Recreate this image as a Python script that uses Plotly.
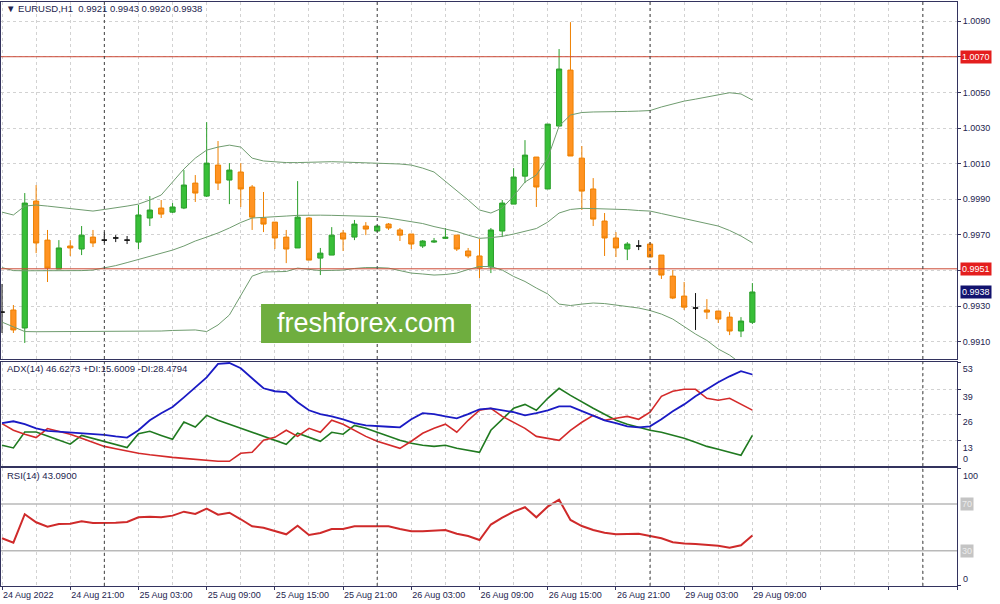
import plotly.graph_objects as go

# ---------------- data (EURUSD H1, bar 0 = 24 Aug 2022 15:00) ----------------
open_ = [0.99267, 0.99279, 0.99178, 0.99890, 0.99671, 0.99509, 0.99638, 0.99621, 0.99688, 0.99671,
         0.99683, 0.99671, 0.99660, 0.99795, 0.99851, 0.99828, 0.99851, 0.99991, 0.99918, 1.00092,
         1.00008, 1.00053, 0.99969, 0.99795, 0.99772, 0.99688, 0.99627, 0.99795, 0.99570, 0.99587,
         0.99711, 0.99688, 0.99750, 0.99722, 0.99761, 0.99728, 0.99705, 0.99638, 0.99660, 0.99681,
         0.99699, 0.99610, 0.99582, 0.99520, 0.99722, 0.99873, 1.00030, 1.00137, 0.99958, 1.00311,
         1.00625, 1.00131, 0.99958, 0.99778, 0.99683, 0.99621, 0.99638, 0.99649, 0.99587, 0.99469,
         0.99357, 0.99290, 0.99279, 0.99273, 0.99239, 0.99161, 0.99210]
high = [0.99425, 0.99307, 0.99935, 0.99980, 0.99728, 0.99671, 0.99671, 0.99750, 0.99728, 0.99716,
        0.99699, 0.99694, 0.99868, 0.99918, 0.99896, 0.99879, 1.00064, 1.00036, 1.00333, 1.00227,
        1.00103, 1.00103, 0.99980, 0.99941, 0.99772, 0.99728, 1.00002, 0.99800, 0.99627, 0.99744,
        0.99728, 0.99784, 0.99772, 0.99756, 0.99767, 0.99739, 0.99705, 0.99671, 0.99683, 0.99739,
        0.99699, 0.99627, 0.99677, 0.99739, 0.99896, 1.00075, 1.00232, 1.00137, 1.00322, 1.00743,
        1.00894, 1.00199, 1.00019, 0.99823, 0.99716, 0.99660, 0.99671, 0.99660, 0.99587, 0.99503,
        0.99436, 0.99374, 0.99340, 0.99273, 0.99267, 0.99239, 0.99430]
low = [0.99150, 0.99150, 0.99094, 0.99598, 0.99436, 0.99509, 0.99582, 0.99587, 0.99632, 0.99655,
       0.99660, 0.99649, 0.99621, 0.99750, 0.99795, 0.99823, 0.99845, 0.99885, 0.99913, 0.99952,
       0.99873, 0.99857, 0.99728, 0.99716, 0.99621, 0.99542, 0.99627, 0.99559, 0.99475, 0.99587,
       0.99610, 0.99671, 0.99699, 0.99716, 0.99728, 0.99666, 0.99621, 0.99627, 0.99655, 0.99677,
       0.99610, 0.99570, 0.99458, 0.99486, 0.99688, 0.99873, 0.99991, 0.99857, 0.99958, 1.00311,
       1.00143, 0.99840, 0.99750, 0.99582, 0.99576, 0.99559, 0.99615, 0.99576, 0.99453, 0.99340,
       0.99279, 0.99167, 0.99228, 0.99206, 0.99138, 0.99127, 0.99200]
close = [0.99267, 0.99167, 0.99879, 0.99655, 0.99514, 0.99627, 0.99627, 0.99699, 0.99655, 0.99671,
         0.99683, 0.99671, 0.99812, 0.99840, 0.99817, 0.99857, 0.99980, 0.99935, 1.00103, 0.99991,
         1.00064, 0.99958, 0.99800, 0.99761, 0.99683, 0.99621, 0.99800, 0.99559, 0.99598, 0.99699,
         0.99677, 0.99761, 0.99733, 0.99750, 0.99739, 0.99699, 0.99649, 0.99666, 0.99666, 0.99687,
         0.99621, 0.99582, 0.99514, 0.99728, 0.99879, 1.00025, 1.00148, 0.99969, 1.00322, 1.00631,
         1.00143, 0.99946, 0.99789, 0.99683, 0.99627, 0.99649, 0.99638, 0.99576, 0.99475, 0.99346,
         0.99295, 0.99290, 0.99267, 0.99228, 0.99161, 0.99217, 0.99380]

bb_upper = [0.99828, 0.99812, 0.99862, 0.99868, 0.99862, 0.99854, 0.99848, 0.99840, 0.99834, 0.99843,
            0.99851, 0.99862, 0.99873, 0.99896, 0.99924, 0.99997, 1.00070, 1.00131, 1.00176, 1.00193,
            1.00204, 1.00193, 1.00131, 1.00115, 1.00109, 1.00106, 1.00106, 1.00109, 1.00111, 1.00111,
            1.00109, 1.00107, 1.00106, 1.00103, 1.00101, 1.00098, 1.00092, 1.00075, 1.00053, 1.00002,
            0.99952, 0.99896, 0.99840, 0.99823, 0.99851, 0.99918, 0.99997, 1.00036, 1.00131, 1.00311,
            1.00373, 1.00387, 1.00390, 1.00390, 1.00392, 1.00393, 1.00395, 1.00398, 1.00418, 1.00434,
            1.00451, 1.00462, 1.00474, 1.00485, 1.00498, 1.00491, 1.00457]
bb_middle = [0.99517, 0.99500, 0.99499, 0.99499, 0.99499, 0.99498, 0.99498, 0.99500, 0.99503, 0.99514,
             0.99528, 0.99545, 0.99562, 0.99582, 0.99598, 0.99615, 0.99638, 0.99666, 0.99688, 0.99711,
             0.99739, 0.99770, 0.99795, 0.99800, 0.99803, 0.99806, 0.99810, 0.99812, 0.99811, 0.99810,
             0.99808, 0.99806, 0.99804, 0.99803, 0.99795, 0.99786, 0.99775, 0.99764, 0.99747, 0.99733,
             0.99719, 0.99699, 0.99681, 0.99685, 0.99692, 0.99705, 0.99719, 0.99736, 0.99772, 0.99823,
             0.99843, 0.99849, 0.99848, 0.99847, 0.99845, 0.99842, 0.99837, 0.99834, 0.99820, 0.99806,
             0.99792, 0.99778, 0.99764, 0.99750, 0.99725, 0.99694, 0.99656]
bb_lower = [0.99211, 0.99183, 0.99158, 0.99157, 0.99157, 0.99158, 0.99158, 0.99158, 0.99158, 0.99158,
            0.99158, 0.99158, 0.99159, 0.99161, 0.99161, 0.99164, 0.99164, 0.99167, 0.99158, 0.99195,
            0.99251, 0.99363, 0.99469, 0.99492, 0.99494, 0.99495, 0.99514, 0.99506, 0.99500, 0.99501,
            0.99503, 0.99512, 0.99517, 0.99517, 0.99514, 0.99500, 0.99486, 0.99481, 0.99475, 0.99478,
            0.99486, 0.99506, 0.99523, 0.99523, 0.99503, 0.99467, 0.99439, 0.99402, 0.99369, 0.99312,
            0.99304, 0.99312, 0.99318, 0.99315, 0.99307, 0.99298, 0.99290, 0.99276, 0.99256, 0.99228,
            0.99186, 0.99144, 0.99108, 0.99060, 0.99026, 0.98976, 0.98931]

adx = [21.8, 22.8, 21.3, 19.2, 17.9, 17.5, 17.2, 16.7, 16.3, 15.9,
       15.1, 14.5, 18.2, 23.3, 26.9, 30.1, 35.0, 40.1, 45.2, 52.0,
       52.5, 49.8, 44.7, 39.6, 38.1, 37.6, 32.5, 28.4, 26.4, 25.3,
       23.8, 21.8, 20.7, 20.2, 20.0, 19.7, 23.8, 26.9, 26.4, 25.3,
       24.3, 26.4, 28.9, 29.4, 28.4, 27.4, 25.8, 26.9, 28.4, 30.4,
       30.4, 27.9, 25.8, 23.3, 21.8, 20.2, 19.7, 20.2, 23.8, 27.9,
       31.4, 35.5, 39.1, 42.7, 45.7, 48.3, 46.63]
plus_di = [10.6, 9.2, 17.3, 17.3, 15.3, 13.2, 11.1, 15.6, 14.1, 12.5,
           11.0, 9.4, 16.5, 17.7, 15.6, 13.6, 22.4, 19.9, 25.8, 23.3,
           21.3, 19.2, 17.2, 15.1, 13.1, 11.1, 16.7, 14.6, 12.6, 17.2,
           16.2, 20.7, 19.2, 17.2, 15.1, 13.1, 11.6, 10.6, 10.0, 10.6,
           9.0, 8.0, 7.0, 18.2, 23.8, 29.4, 31.4, 28.4, 34.5, 39.6,
           36.0, 32.5, 29.4, 26.4, 23.3, 21.3, 19.7, 18.2, 17.2, 15.6,
           14.1, 12.1, 10.0, 8.5, 7.0, 5.5, 15.6]
minus_di = [21.6, 18.2, 16.2, 14.5, 19.1, 17.7, 16.2, 14.1, 12.1, 10.0,
            8.8, 7.5, 6.5, 5.7, 4.9, 4.4, 3.9, 3.4, 2.9, 2.4,
            2.4, 6.5, 7.0, 13.1, 14.6, 18.2, 15.1, 19.2, 17.2, 23.3,
            21.3, 18.2, 15.1, 12.6, 10.6, 9.0, 12.6, 16.7, 19.2, 21.3,
            17.2, 23.3, 28.4, 29.4, 25.3, 22.3, 19.2, 15.1, 14.1, 13.1,
            18.2, 22.3, 25.8, 23.3, 24.3, 25.3, 23.8, 27.4, 35.5, 38.1,
            39.1, 39.1, 34.5, 33.5, 34.5, 31.4, 28.48]
rsi = [40.6, 36.8, 61.2, 54.3, 50.5, 52.8, 53.1, 55.2, 53.7, 53.7,
       54.0, 54.6, 58.6, 59.1, 58.6, 60.0, 63.4, 61.4, 66.0, 60.8,
       62.5, 56.9, 50.9, 49.7, 46.6, 44.0, 51.4, 43.4, 45.1, 48.6,
       48.6, 50.9, 50.9, 50.9, 50.9, 48.6, 46.6, 46.6, 46.9, 47.7,
       44.5, 42.6, 39.1, 52.4, 58.2, 63.4, 67.2, 58.6, 67.7, 73.7,
       56.3, 51.1, 47.7, 45.4, 44.0, 44.0, 44.5, 42.6, 40.6, 37.2,
       36.1, 35.7, 34.9, 34.3, 32.5, 34.6, 43.09]

time_labels = ["24 Aug 2022", "24 Aug 21:00", "25 Aug 03:00", "25 Aug 09:00", "25 Aug 15:00",
               "25 Aug 21:00", "26 Aug 03:00", "26 Aug 09:00", "26 Aug 15:00", "26 Aug 21:00",
               "29 Aug 03:00", "29 Aug 09:00"]
time_label_bars = [0, 6, 12, 18, 24, 30, 36, 42, 48, 54, 60, 66]
day_separator_bars = [9, 33, 57, 81]
price_ticks = [1.0090, 1.0070, 1.0050, 1.0030, 1.0010, 0.9990, 0.9970, 0.9950, 0.9930, 0.9910]
price_tick_text = ["1.0090", "", "1.0050", "1.0030", "1.0010", "0.9990", "0.9970", "", "0.9930", "0.9910"]
price_levels = [1.0070, 0.9951]
last_price = 0.9938
adx_ticks = [53, 39, 26, 13]
rsi_levels = [70, 30]

# ---------------- styling ----------------
FONT = "Liberation Sans"
TXT = "#24244e"
FRAME = "#33335e"
GRID = "#d2d2d2"
X_RANGE = [-0.09, 84.0]
n = len(close)
bars = list(range(n))
grid_bars = list(range(0, 85, 3))

fig = go.Figure()

def candles(sel, line_c, fill_c):
    fig.add_trace(go.Candlestick(
        x=[bars[i] for i in sel], open=[open_[i] for i in sel], high=[high[i] for i in sel],
        low=[low[i] for i in sel], close=[close[i] for i in sel],
        increasing=dict(line=dict(color=line_c, width=1), fillcolor=fill_c),
        decreasing=dict(line=dict(color=line_c, width=1), fillcolor=fill_c),
        whiskerwidth=0, showlegend=False, hoverinfo="skip", xaxis="x", yaxis="y"))

up = [i for i in bars if close[i] > open_[i]]
dn = [i for i in bars if close[i] < open_[i]]
dj = [i for i in bars if close[i] == open_[i]]

for band in (bb_upper, bb_middle, bb_lower):
    fig.add_trace(go.Scatter(x=bars, y=band, mode="lines", line=dict(color="#6f9c6f", width=1),
                             showlegend=False, hoverinfo="skip", xaxis="x", yaxis="y"))
candles(up, "#2a9f2a", "#38bf38")
candles(dn, "#ee8000", "#ff9322")
candles(dj, "#111111", "#111111")

fig.add_trace(go.Scatter(x=bars, y=plus_di, mode="lines", line=dict(color="#207a20", width=1.6),
                         showlegend=False, hoverinfo="skip", xaxis="x2", yaxis="y2"))
fig.add_trace(go.Scatter(x=bars, y=minus_di, mode="lines", line=dict(color="#d42a2a", width=1.6),
                         showlegend=False, hoverinfo="skip", xaxis="x2", yaxis="y2"))
fig.add_trace(go.Scatter(x=bars, y=adx, mode="lines", line=dict(color="#1a1ac4", width=1.8),
                         showlegend=False, hoverinfo="skip", xaxis="x2", yaxis="y2"))
fig.add_trace(go.Scatter(x=bars, y=rsi, mode="lines", line=dict(color="#cf2a2a", width=2),
                         showlegend=False, hoverinfo="skip", xaxis="x3", yaxis="y3"))

xcommon = dict(range=X_RANGE, showline=True, mirror=True, linecolor=FRAME, linewidth=1,
               zeroline=False, automargin=False, fixedrange=True)
ycommon = dict(side="right", showline=True, mirror=True, linecolor=FRAME, linewidth=1,
               zeroline=False, automargin=False, fixedrange=True,
               tickfont=dict(family=FONT, size=9, color=TXT), ticks="outside", ticklen=3,
               tickcolor=FRAME)

fig.update_layout(
    template="none", width=1000, height=604,
    margin=dict(l=1, r=43, t=2, b=18),
    paper_bgcolor="white", plot_bgcolor="white",
    hovermode=False, showlegend=False, boxgap=0.35,
    xaxis=dict(**xcommon, anchor="y", domain=[0, 1], showticklabels=False,
               tickmode="array", tickvals=grid_bars, showgrid=True, gridcolor=GRID,
               griddash="dot", gridwidth=1, rangeslider=dict(visible=False)),
    yaxis=dict(**ycommon, anchor="x", domain=[0.3887, 1.0], range=[0.99004, 1.01007],
               tickmode="array", tickvals=price_ticks, ticktext=price_tick_text,
               showgrid=True, gridcolor=GRID, griddash="dot"),
    xaxis2=dict(**xcommon, anchor="y2", domain=[0, 1], showticklabels=False,
                tickmode="array", tickvals=grid_bars, showgrid=True, gridcolor=GRID, griddash="dot"),
    yaxis2=dict(**ycommon, anchor="x2", domain=[0.20548, 0.38356], range=[0, 53],
                tickmode="array", tickvals=adx_ticks, ticklabelshift=7,
                showgrid=True, gridcolor=GRID, griddash="dot"),
    xaxis3=dict(**xcommon, anchor="y3", domain=[0, 1],
                tickmode="array", tickvals=time_label_bars + [72, 78, 84],
                ticktext=time_labels + ["", "", ""], ticks="outside", ticklen=3, tickcolor=FRAME,
                ticklabelposition="outside right",
                tickfont=dict(family=FONT, size=9, color=TXT),
                showgrid=True, gridcolor=GRID, griddash="dot",
                minor=dict(tickmode="array", tickvals=[b for b in grid_bars if b % 6 == 3],
                           showgrid=True, gridcolor=GRID, griddash="dot", ticks="")),
    yaxis3=dict(**ycommon, anchor="x3", domain=[0, 0.20205], range=[-0.25, 100.8],
                tickmode="array", tickvals=[0, 100], showticklabels=False, showgrid=False),
)

shapes = []
for p in price_levels:
    shapes.append(dict(type="line", xref="x domain", x0=0, x1=1, yref="y", y0=p, y1=p,
                       line=dict(color="#cc4a36", width=1)))
for lv in rsi_levels:
    shapes.append(dict(type="line", xref="x3 domain", x0=0, x1=1, yref="y3", y0=lv, y1=lv,
                       line=dict(color="#b9b9b9", width=1.5)))
for xa, ya in (("x", "y domain"), ("x2", "y2 domain"), ("x3", "y3 domain")):
    for d in day_separator_bars:
        shapes.append(dict(type="line", xref=xa, x0=d, x1=d, yref=ya, y0=0, y1=1,
                           line=dict(color="#444444", width=1, dash="dot")))
# watermark plate
shapes.append(dict(type="rect", xref="paper", yref="paper", x0=0.2720, x1=0.4916,
                   y0=0.4161, y1=0.4829, fillcolor="#6fae3f", line=dict(width=0), layer="above"))
fig.update_layout(shapes=shapes)

ann = []
ann.append(dict(text="freshforex.com", xref="paper", yref="paper", x=0.3818, y=0.4495,
                showarrow=False, font=dict(family=FONT, size=27, color="white")))
ann.append(dict(text="▼ EURUSD,H1  0.9921 0.9943 0.9920 0.9938", xref="paper", yref="paper",
                x=0.003, y=0.9897, xanchor="left", yanchor="middle", showarrow=False,
                font=dict(family=FONT, size=9.5, color=TXT)))
ann.append(dict(text="ADX(14) 46.6273 +DI:15.6009 -DI:28.4794", xref="paper", yref="paper",
                x=0.004, y=0.3716, xanchor="left", yanchor="middle", showarrow=False,
                font=dict(family=FONT, size=9.5, color=TXT)))
ann.append(dict(text="RSI(14) 43.0900", xref="paper", yref="paper",
                x=0.004, y=0.1884, xanchor="left", yanchor="middle", showarrow=False,
                font=dict(family=FONT, size=9.5, color=TXT)))
XR = 1.0031
for p in price_levels:
    ann.append(dict(text=f"{p:.4f}", xref="paper", yref="y", x=XR, y=p, xanchor="left",
                    yanchor="middle", showarrow=False, bgcolor="#e41e1e", borderpad=1,
                    font=dict(family=FONT, size=9, color="white")))
ann.append(dict(text=f"{last_price:.4f}", xref="paper", yref="y", x=XR, y=last_price,
                xanchor="left", yanchor="middle", showarrow=False, bgcolor="#12126e", borderpad=1,
                font=dict(family=FONT, size=9, color="white")))
for lv in rsi_levels:
    ann.append(dict(text=str(lv), xref="paper", yref="y3", x=XR, y=lv, xanchor="left",
                    yanchor="middle", showarrow=False, bgcolor="#c4c4c4", borderpad=1,
                    font=dict(family=FONT, size=9, color="#ececec")))
ann.append(dict(text="0", xref="paper", yref="y2", x=XR + 0.001, y=0, xanchor="left",
                yanchor="bottom", showarrow=False, font=dict(family=FONT, size=9, color=TXT)))
ann.append(dict(text="100", xref="paper", yref="y3", x=XR + 0.001, y=100, xanchor="left",
                yanchor="top", showarrow=False, font=dict(family=FONT, size=9, color=TXT)))
ann.append(dict(text="0", xref="paper", yref="y3", x=XR + 0.001, y=0, xanchor="left",
                yanchor="bottom", showarrow=False, font=dict(family=FONT, size=9, color=TXT)))
fig.update_layout(annotations=ann)

fig.write_html("out.html", config={"displayModeBar": False, "staticPlot": True})

# remove the browser's default 8px page margin so the figure sits at the window origin
with open("out.html", "r", encoding="utf-8") as fh:
    html = fh.read()
html = html.replace("<head>", "<head><style>html,body{margin:0;padding:0;overflow:hidden;}</style>", 1)
with open("out.html", "w", encoding="utf-8") as fh:
    fh.write(html)
